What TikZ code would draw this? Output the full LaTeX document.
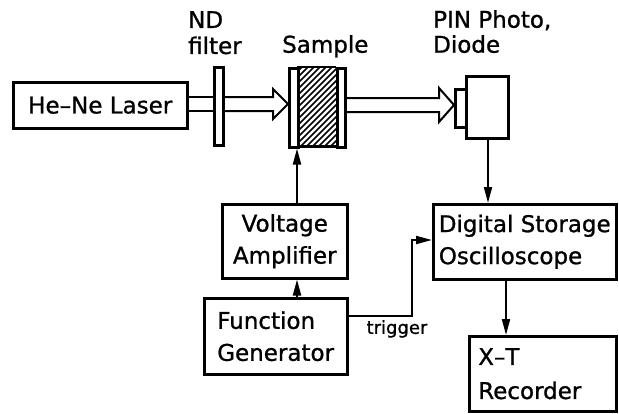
\documentclass[tikz,border=0pt]{standalone}
\usepackage{fontspec}
\setmainfont[FakeBold=1]{DejaVu Sans}
\usetikzlibrary{arrows.meta}
\begin{document}
\begin{tikzpicture}[x=1pt,y=-1pt,
  box/.style={draw,line width=2.5pt,inner sep=0pt,anchor=north west,font=\fontsize{23}{32}\selectfont},
  lbl/.style={inner sep=0pt,anchor=north west,align=left,font=\fontsize{23}{25}\selectfont},
  conn/.style={line width=2pt,-{Triangle[length=16pt,width=8pt]}},
  beam/.style={line width=2pt},
]
\useasboundingbox (0,0) rectangle (619,413);
% boxes
\node[box,minimum width=174pt,minimum height=46pt] (laser) at (12,81) {He–Ne Laser};
\node[box,minimum width=9pt,minimum height=78pt] (filter) at (213,66) {};
\node[box,minimum width=9pt,minimum height=79pt] (plateL) at (288,67) {};
\node[box,minimum width=8pt,minimum height=79pt] (plateR) at (336,67) {};
\node[inner sep=0pt,minimum width=39pt,minimum height=79pt,anchor=north west] (hatch) at (297,67) {};
\begin{scope}
  \clip (hatch.north west) rectangle (hatch.south east);
  \foreach \k in {-80,-74,...,40} {
    \draw[line width=1.5pt] (297+\k,146) -- (297+\k+79,67);
  }
\end{scope}
\draw[line width=2.5pt] (hatch.north west) -- (hatch.north east) (hatch.south west) -- (hatch.south east);
\node[box,minimum width=11pt,minimum height=38pt] (pinwin) at (454,88) {};
\node[box,minimum width=42pt,minimum height=62pt] (pin) at (465,75) {};
\node[box,minimum width=125pt,minimum height=74pt,align=center] (amp) at (221,203) {Voltage\\Amplifier};
\node[box,minimum height=76pt,inner xsep=13pt,text width=117pt,align=left] (fg) at (203,297) {Function\\Generator};
\node[box,minimum height=75pt,minimum width=183pt,align=left] (dso) at (432,203) {Digital Storage\\Oscilloscope};
\node[box,minimum height=75pt,inner xsep=9pt,text width=129pt,align=left] (xt) at (468,335) {X–T\\[2pt]Recorder};
% labels
\node[lbl] (ndlbl) at (188,11) {ND\\[1pt]filter};
\node[lbl] (samplbl) at (282,35) {Sample};
\node[lbl] (pinlbl) at (433,10) {PIN Photo,\\Diode};
% beam 1
\coordinate (b1a) at (laser.east |- 0,97);
\coordinate (b1b) at (laser.east |- 0,111);
\draw[beam] (b1a) -- (filter.west |- b1a) (b1b) -- (filter.west |- b1b);
\draw[beam,line join=miter] (filter.east |- b1a) -- (273,97) -- (273,89) -- (plateL.west |- 0,104) -- (273,119) -- (273,111) -- (filter.east |- b1b);
% beam 2
\draw[beam,line join=miter] (plateR.east |- 0,98) -- (439,98) -- (439,88) -- (pinwin.west |- 0,105) -- (439,122) -- (439,112) -- (plateR.east |- 0,112);
% connectors
\draw[conn] (pin.south -| 488,0) -- (dso.north -| 488,0);
\draw[conn] (amp.north -| 297,0) -- (plateL.south -| 297,0);
\draw[conn] (fg.north -| 297,0) -- (amp.south -| 297,0);
\coordinate (tr1) at (412,316);
\coordinate (tr2) at (412,240);
\draw[conn] (fg.east |- tr1) -- (tr1) -- (tr2) -- (dso.west |- tr2);
\node[inner sep=0pt,font=\fontsize{18}{20}\selectfont,anchor=north] (trig) at (397,320) {trigger};
\draw[conn] (dso.south -| 506,0) -- (xt.north -| 506,0);
\end{tikzpicture}
\end{document}
